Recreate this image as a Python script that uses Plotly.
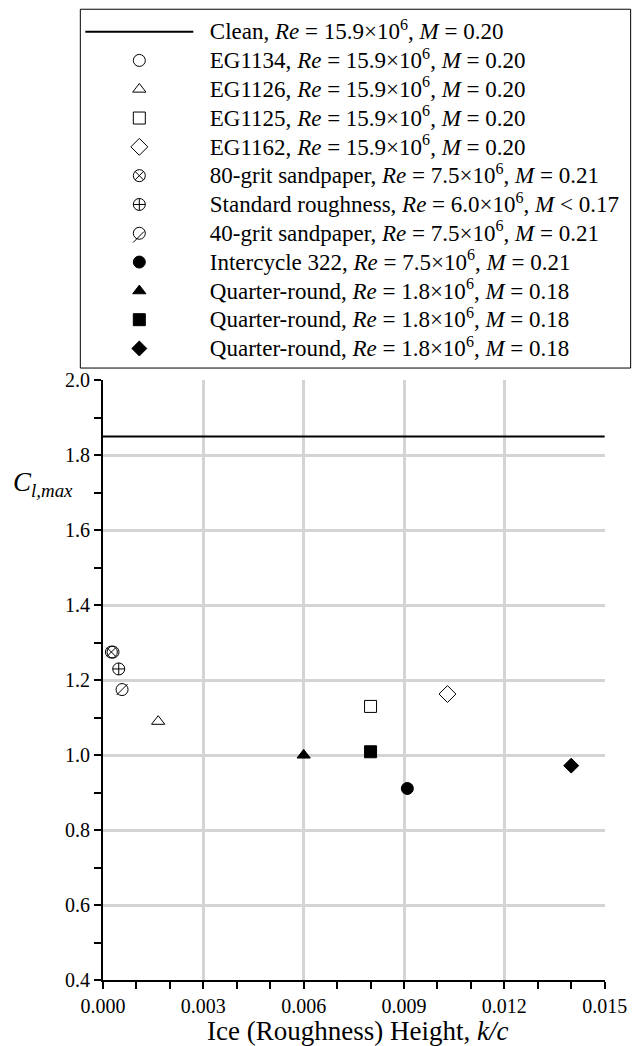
import plotly.graph_objects as go

# clean airfoil reference level
clean_k = [0.0, 0.015]
clean_cl = [1.85, 1.85]
clean_name = "Clean, <i>Re</i> = 15.9×10<sup>6</sup>, <i>M</i> = 0.20"

# iced / roughened cases
names = [
    "EG1134, <i>Re</i> = 15.9×10<sup>6</sup>, <i>M</i> = 0.20",
    "EG1126, <i>Re</i> = 15.9×10<sup>6</sup>, <i>M</i> = 0.20",
    "EG1125, <i>Re</i> = 15.9×10<sup>6</sup>, <i>M</i> = 0.20",
    "EG1162, <i>Re</i> = 15.9×10<sup>6</sup>, <i>M</i> = 0.20",
    "80-grit sandpaper, <i>Re</i> = 7.5×10<sup>6</sup>, <i>M</i> = 0.21",
    "Standard roughness, <i>Re</i> = 6.0×10<sup>6</sup>, <i>M</i> &lt; 0.17",
    "40-grit sandpaper, <i>Re</i> = 7.5×10<sup>6</sup>, <i>M</i> = 0.21",
    "Intercycle 322, <i>Re</i> = 7.5×10<sup>6</sup>, <i>M</i> = 0.21",
    "Quarter-round, <i>Re</i> = 1.8×10<sup>6</sup>, <i>M</i> = 0.18",
    "Quarter-round, <i>Re</i> = 1.8×10<sup>6</sup>, <i>M</i> = 0.18",
    "Quarter-round, <i>Re</i> = 1.8×10<sup>6</sup>, <i>M</i> = 0.18",
]
symbols = ["circle-open", "triangle-up-open", "square-open", "diamond-open",
           "circle-x-open", "circle-cross-open", "circle-open",
           "circle", "triangle-up", "square", "diamond"]
k_c = [0.0003, 0.00165, 0.008, 0.0103, 0.00025, 0.00047, 0.00057,
       0.0091, 0.006, 0.008, 0.014]
cl_max = [1.275, 1.09, 1.13, 1.163, 1.275, 1.23, 1.175,
          0.911, 1.0, 1.009, 0.972]
sizes = [12, 11.5, 12, 13, 12, 12, 12, 12, 11.5, 12, 11.5]

x_ticks = [0, 0.003, 0.006, 0.009, 0.012, 0.015]
y_ticks = [0.4, 0.6, 0.8, 1.0, 1.2, 1.4, 1.6, 1.8, 2.0]

SERIF = "Liberation Serif"
W, H = 639, 1046
L, R, T, B = 103, 27, 378, 66
PW, PH = W - L - R, H - T - B


def px(xp):
    return (xp - L) / PW


def py(yp):
    return (H - B - yp) / PH


def leg(txt):
    return '<span style="font-size:23px">&nbsp;&nbsp;' + txt + "</span>"


fig = go.Figure()
fig.add_trace(go.Scatter(x=clean_k, y=clean_cl, mode="lines",
                         line=dict(color="black", width=2), name=leg(clean_name)))
for i, (nm, sym, x, y, s) in enumerate(zip(names, symbols, k_c, cl_max, sizes)):
    fig.add_trace(go.Scatter(x=[x], y=[y], mode="markers", name=leg(nm),
                             marker=dict(symbol=sym, size=s, color="black",
                                         line=dict(color="black", width=1))))
    if i == 6:  # slash through the 40-grit circle
        fig.add_trace(go.Scatter(x=[x], y=[y], mode="markers", showlegend=False,
                                 marker=dict(symbol="line-ne-open", size=11, color="black",
                                             line=dict(color="black", width=1))))

axis_common = dict(showline=True, linecolor="black", linewidth=2,
                   ticks="outside", ticklen=7, tickwidth=2, tickcolor="black",
                   gridcolor="#d4d4d4", gridwidth=3, zeroline=False,
                   tickfont=dict(family=SERIF, size=20, color="black"))

fig.update_xaxes(range=[0, 0.01501], tickvals=x_ticks, tickformat=".3f",
                 minor=dict(dtick=0.001, ticks="outside", ticklen=7, tickwidth=2,
                            tickcolor="black", showgrid=False),
                 **axis_common)
fig.update_yaxes(range=[0.4, 2.001], tickvals=y_ticks, tickformat=".1f",
                 minor=dict(dtick=0.1, ticks="outside", ticklen=7, tickwidth=2,
                            tickcolor="black", showgrid=False),
                 **axis_common)

# axis titles
fig.add_annotation(text="<i>C</i><sub><i>l,max</i></sub>", xref="paper", yref="paper",
                   x=px(42), y=py(482), xanchor="center", yanchor="middle",
                   showarrow=False, font=dict(family=SERIF, size=27, color="black"))
fig.add_annotation(text="Ice (Roughness) Height, <i>k/c</i>", xref="paper", yref="paper",
                   x=px(361), y=py(1031), xanchor="center", yanchor="middle",
                   showarrow=False, font=dict(family=SERIF, size=27, color="black"))

# legend frame
fig.add_shape(type="rect", xref="paper", yref="paper",
              x0=px(80), x1=px(638), y0=py(366), y1=py(6),
              line=dict(color="black", width=1))
# slash of the 40-grit legend symbol
row8 = 33 + 7 * 28.8
fig.add_shape(type="line", xref="paper", yref="paper",
              x0=px(139 - 5.5), x1=px(139 + 5.5), y0=py(row8 + 5.5), y1=py(row8 - 5.5),
              line=dict(color="black", width=1))

fig.update_layout(
    width=W, height=H,
    margin=dict(l=L, r=R, t=T, b=B),
    plot_bgcolor="white", paper_bgcolor="white",
    font=dict(family=SERIF, color="black"),
    showlegend=True,
    legend=dict(x=px(80), xanchor="left", y=py(9), yanchor="top",
                font=dict(family=SERIF, size=19.85, color="black"),
                bgcolor="rgba(0,0,0,0)", borderwidth=0, itemwidth=108,
                tracegroupgap=0),
)

# no page margin, so the figure fills the window exactly
fig.write_html("out.html", config={"displayModeBar": False},
               post_script="document.body.style.margin='0';")
